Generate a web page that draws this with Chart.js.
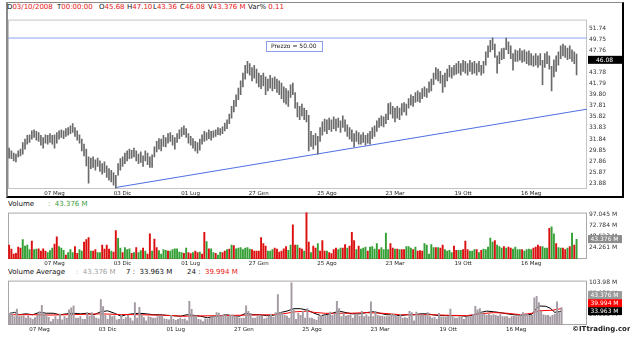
<!DOCTYPE html>
<html>
<head>
<meta charset="utf-8">
<title>Weekly chart</title>
<script src="https://cdn.jsdelivr.net/npm/chart.js@4.4.1/dist/chart.umd.min.js"></script>
<style>
  html, body { margin: 0; padding: 0; background: #fff; }
  body { position: relative; width: 630px; height: 340px; overflow: hidden;
         font-family: "DejaVu Sans", sans-serif; font-size: 7px; color: #111; }
  canvas, .txt, #frame { position: absolute; }
  #frame { left: 6px; top: 2px; width: 614px; height: 193px;
           border-left: 2px solid #8a8a8a; border-top: 1px solid #8a8a8a;
           border-right: 2px solid #000; border-bottom: 2px solid #000; }
  .txt { white-space: pre; line-height: 8px; }
  .red { color: #e81414; }
  .green { color: #3c9c3c; }
  .grey { color: #a0a0a0; }
  #copy { left: 572px; top: 325px; font-weight: bold; color: #222; }
</style>
</head>
<body>
<div id="frame"></div>
<div id="header"></div>
<canvas id="priceChart" width="614" height="183" style="left:8px;top:14px"></canvas>
<div class="txt" style="left:8px;top:200px">Volume</div>
<div class="txt green" id="volTitle" style="left:48px;top:200px"></div>
<canvas id="volChart" width="614" height="60" style="left:8px;top:207px"></canvas>
<div class="txt" style="left:8px;top:268px">Volume Average</div>
<div class="txt grey" id="avgTitle" style="left:76px;top:268px"></div>
<div class="txt" id="ma7Title" style="left:126px;top:268px"></div>
<div class="txt" id="ma24Title" style="left:187px;top:268px"></div>
<canvas id="avgChart" width="614" height="58" style="left:8px;top:275px"></canvas>
<div class="txt" id="copy">©ITtrading.com</div>

<script>
// weekly bars, oldest first; the last one is the week ending 03/10/2008
const highs = [
  30.2, 29.7, 29.3, 29.1, 29.7, 30.0, 31.2, 31.8, 32.5, 32.6,
  33.3, 33.5, 33.2, 33.0, 32.5, 32.1, 32.6, 32.5, 32.8, 32.5,
  32.6, 33.0, 33.3, 33.5, 33.3, 33.7, 33.9, 34.2, 34.6, 33.9,
  33.3, 32.6, 31.8, 30.9, 30.0, 28.6, 28.4, 28.6, 28.1, 28.4,
  27.9, 27.4, 27.7, 27.0, 26.5, 26.2, 25.8, 25.3, 27.4, 28.3,
  28.6, 29.3, 29.7, 30.0, 29.8, 30.2, 29.7, 29.1, 29.5, 28.8,
  29.7, 29.3, 28.6, 29.0, 30.4, 31.4, 31.9, 31.8, 32.5, 32.1,
  32.8, 33.0, 32.5, 32.1, 32.8, 33.5, 33.9, 34.2, 33.7, 32.8,
  32.3, 31.9, 31.4, 31.2, 31.8, 32.6, 33.2, 33.0, 33.5, 33.2,
  33.3, 33.5, 33.9, 33.7, 34.0, 34.7, 35.3, 36.3, 37.7, 38.8,
  39.8, 41.0, 42.3, 43.7, 45.1, 45.8, 45.4, 44.7, 45.1, 44.4,
  43.7, 43.3, 43.7, 43.0, 42.6, 43.3, 42.8, 43.0, 42.6, 42.3,
  41.9, 41.2, 40.9, 40.5, 41.6, 41.9, 40.2, 38.4, 37.7, 38.1,
  37.4, 37.0, 36.1, 33.2, 32.5, 32.8, 32.3, 33.9, 34.9, 35.4,
  35.3, 35.6, 35.3, 35.8, 35.4, 35.6, 35.1, 36.0, 35.3, 34.4,
  33.9, 33.5, 32.8, 33.3, 33.0, 32.6, 33.0, 32.5, 32.8, 33.2,
  33.9, 34.2, 35.1, 35.6, 36.0, 35.8, 36.3, 38.2, 38.4, 37.7,
  37.4, 37.7, 37.4, 38.2, 38.4, 38.1, 39.1, 39.8, 39.5, 40.2,
  40.5, 40.2, 40.9, 41.2, 40.9, 42.1, 42.6, 43.7, 44.7, 44.4,
  44.0, 43.3, 43.7, 44.4, 45.1, 44.7, 45.1, 45.4, 45.8, 45.4,
  46.0, 45.8, 45.4, 46.0, 45.6, 45.8, 45.4, 45.8, 45.1, 45.8,
  47.5, 48.6, 49.6, 50.05, 48.9, 46.8, 47.5, 48.1, 48.2, 50.0,
  49.3, 48.6, 47.2, 47.9, 47.7, 48.1, 47.7, 47.9, 47.5, 47.7,
  47.2, 46.8, 47.2, 46.8, 47.2, 46.0, 47.2, 47.5, 46.8, 44.9,
  46.1, 46.8, 47.5, 48.6, 48.9, 48.6, 48.2, 48.6, 47.9, 47.5, 47.10
];
const lows = [
  28.4, 28.3, 27.9, 27.7, 28.6, 28.8, 29.1, 30.0, 30.9, 31.2,
  31.8, 32.1, 31.6, 31.4, 30.7, 30.2, 31.1, 30.9, 31.2, 30.9,
  30.2, 31.1, 31.8, 32.1, 31.9, 32.3, 32.5, 32.8, 33.0, 32.3,
  31.6, 31.1, 29.7, 28.8, 27.0, 23.9, 26.5, 26.7, 26.2, 26.9,
  26.0, 25.5, 25.8, 24.9, 24.4, 24.1, 23.5, 23.0, 25.3, 26.2,
  26.9, 27.4, 27.9, 28.3, 28.4, 28.6, 27.9, 27.4, 27.6, 26.9,
  27.9, 27.2, 26.7, 26.7, 28.6, 29.5, 30.0, 29.7, 30.5, 30.4,
  31.1, 31.4, 30.7, 30.0, 31.2, 31.9, 32.3, 32.6, 32.1, 31.1,
  30.7, 30.2, 29.7, 29.3, 29.8, 30.9, 31.4, 31.6, 31.9, 31.6,
  32.1, 32.3, 32.6, 32.5, 32.8, 33.3, 33.7, 34.6, 35.6, 36.7,
  37.7, 38.9, 39.8, 41.2, 42.6, 43.7, 43.3, 42.3, 42.8, 41.9,
  41.2, 40.9, 41.4, 39.8, 40.5, 41.0, 40.5, 40.9, 40.2, 39.8,
  39.1, 38.4, 38.1, 37.7, 39.3, 39.8, 37.4, 35.8, 35.3, 36.0,
  35.3, 34.9, 29.7, 30.5, 30.0, 30.7, 29.1, 31.4, 32.5, 33.2,
  32.8, 33.5, 33.2, 33.7, 33.3, 33.9, 33.0, 33.9, 33.2, 32.3,
  31.8, 31.4, 30.4, 31.4, 30.9, 30.9, 31.2, 30.7, 31.1, 30.9,
  31.9, 32.3, 33.2, 33.9, 34.2, 34.0, 34.6, 35.3, 36.3, 35.6,
  34.9, 35.6, 35.3, 36.1, 36.7, 36.1, 37.4, 37.9, 37.7, 38.4,
  38.6, 38.4, 39.1, 39.5, 39.3, 40.2, 40.5, 41.6, 42.6, 42.3,
  41.9, 40.2, 41.2, 42.3, 43.0, 42.8, 43.3, 43.5, 43.7, 43.3,
  44.0, 43.7, 43.3, 44.0, 43.5, 43.7, 43.3, 43.9, 43.3, 43.7,
  45.1, 46.5, 47.5, 47.9, 46.5, 43.7, 45.4, 46.1, 46.3, 47.9,
  47.2, 46.3, 44.2, 45.8, 45.8, 46.0, 45.6, 45.8, 45.4, 45.1,
  45.1, 44.9, 45.1, 44.7, 45.1, 41.6, 44.7, 45.4, 44.4, 40.5,
  43.0, 44.0, 45.1, 46.3, 46.8, 46.5, 46.1, 46.3, 45.8, 45.4, 43.36
];
// millions of shares per week
const volumes = [
  31.0, 22.4, 11.2, 13.2, 26.4, 24.4, 42.9, 29.0, 31.0, 21.1,
  39.6, 21.1, 22.4, 23.1, 17.8, 23.1, 17.8, 14.5, 19.1, 24.4,
  33.0, 48.8, 27.7, 24.4, 19.8, 9.2, 14.5, 21.1, 14.5, 27.7,
  13.2, 21.1, 17.8, 37.6, 42.9, 47.5, 17.8, 17.8, 21.1, 14.5,
  14.5, 31.0, 22.4, 31.0, 22.4, 17.8, 15.8, 62.7, 45.5, 24.4,
  14.5, 25.7, 21.1, 23.1, 13.2, 14.5, 25.7, 14.5, 19.1, 24.4,
  17.8, 11.2, 55.4, 17.8, 44.2, 25.7, 19.1, 11.2, 21.1, 19.8,
  17.8, 17.8, 21.1, 23.1, 23.1, 15.8, 14.5, 13.2, 24.4, 14.5,
  12.5, 14.5, 17.8, 14.5, 15.8, 11.2, 58.7, 38.9, 23.1, 23.1,
  14.5, 13.2, 9.2, 15.8, 14.5, 17.8, 21.1, 22.4, 31.0, 29.7,
  23.1, 24.4, 25.7, 21.1, 24.4, 25.7, 22.4, 21.1, 17.8,
  17.8, 17.8, 47.5, 34.3, 29.0, 17.8, 17.8, 21.1, 24.4, 22.4,
  15.8, 17.8, 23.1, 27.7, 19.8, 31.0, 75.3, 31.0, 31.0, 24.4, 22.4, 17.8,
  103.98, 37.6, 14.5, 29.0, 24.4, 34.3, 17.8, 40.9, 17.8, 17.8,
  14.5, 12.5, 21.1, 24.4, 21.1, 24.4, 24.4, 32.3, 24.4, 29.0,
  58.7, 40.9, 21.1, 29.0, 22.4, 24.4, 26.4, 17.8, 26.4, 27.7,
  22.4, 34.3, 21.1, 25.7, 21.1, 57.4, 21.1, 34.3, 24.4, 22.4,
  22.4, 21.1, 21.1, 21.1, 27.7, 27.7, 24.4, 21.1, 26.4, 17.8,
  19.1, 17.8, 34.3, 31.0, 11.2, 32.3, 25.7, 25.7, 25.7, 24.4,
  31.0, 21.1, 17.8, 19.8, 14.5, 29.0, 19.8, 19.8, 19.8, 21.1,
  39.6, 21.1, 17.8, 17.8, 21.1, 21.1, 14.5, 19.8, 22.4, 21.1,
  26.4, 46.2, 37.6, 40.9, 31.0, 27.7, 24.4, 27.7, 24.4, 26.4,
  24.4, 22.4, 26.4, 21.1, 21.1, 21.1, 17.8, 21.1, 22.4, 21.1,
  24.4, 26.4, 31.0, 27.7, 27.7, 24.4, 24.4, 67.3, 70.6, 55.4,
  34.3, 25.7, 24.4, 24.4, 21.1, 24.4, 27.7, 57.4, 31.0, 43.376
];
// u = week closed up, d = week closed down
const volDir = [
  'dddddduuuu', 'duudddduuu', 'dduuuduuud', 'duuddduddu', 'uddddudduu',
  'duuududuud', 'uddudduuuu', 'duuuuuudud', 'dudduddudu', 'uduuddudud',
  'uuuuuuudd', 'ddddduuudd', 'dddduudduddu',
  'dduddudddu', 'dddduuddud', 'dduduuuduu', 'uuduuuuddu', 'dudduuudud',
  'dduuuuudud', 'duuuudduud', 'dduuududuu', 'uuuduuudud', 'duuuuduuuu',
  'dddduuuduu', 'duuddududu'
].join('');

const lastOpen = 45.68;
const lastClose = 46.08;
const lastVarPct = 0.11;

// 7 and 24 week volume averages
const ma7Bars = [7, 9, 11, 14, 17, 20, 23, 26, 29, 32, 35, 38, 41, 44, 47, 50, 53, 56, 58, 61,
  64, 67, 70, 73, 76, 79, 82, 85, 88, 91, 94, 97, 100, 102, 105, 108, 111, 114, 117, 120,
  123, 126, 129, 132, 135, 138, 141, 144, 146, 149, 152, 155, 158, 161, 164, 167, 170, 173, 176, 179,
  182, 185, 188, 191, 193, 196, 199, 202, 205, 208, 211, 214, 217, 220, 223, 226, 229, 232, 235, 237,
  238, 239, 240, 243, 245, 247, 249, 250];
const ma7 = [28.7, 31.0, 25.1, 27.3, 25.1, 31.0, 28.7, 28.7, 25.1, 27.3, 28.7, 27.3, 28.7, 25.1, 32.4, 34.6, 28.7, 21.4, 25.1, 27.3,
  28.7, 27.3, 25.1, 25.1, 23.6, 22.8, 21.4, 25.1, 23.6, 21.4, 17.7, 21.4, 22.8, 25.1, 22.8, 21.4, 28.7, 25.1, 25.1, 22.8,
  23.6, 30.2, 33.9, 39.8, 39.8, 36.1, 28.7, 22.8, 25.1, 28.7, 33.9, 30.2, 27.3, 27.3, 30.2, 32.4, 28.7, 25.1, 25.1, 22.8,
  25.1, 25.1, 27.3, 27.3, 25.1, 22.8, 22.8, 22.8, 22.8, 21.4, 23.6, 30.2, 33.9, 32.4, 30.2, 27.3, 25.1, 23.6, 25.1, 26.5,
  34.0, 41.0, 46.5, 45.7, 41.0, 31.0, 32.4, 33.963];
const ma24Bars = [7, 17, 25, 36, 47, 54, 65, 76, 83, 98, 113, 123, 129, 132, 138, 141, 146, 157, 164, 171,
  179, 186, 193, 201, 208, 214, 220, 226, 232, 237, 240, 246, 250];
const ma24 = [25.1, 25.1, 24.3, 25.5, 27.3, 25.8, 25.0, 23.6, 21.4, 22.8, 24.3, 25.1, 28.7, 32.0, 33.8, 30.8, 28.5, 28.7, 30.2, 28.7,
  25.1, 25.1, 25.1, 23.6, 22.8, 27.3, 30.2, 28.7, 25.1, 28.7, 34.6, 36.1, 39.994];

// support line drawn under the lows, and the horizontal price level
const trendBars = [47, 254.6];
const trendPrices = [23.1, 37.2];
const priceLevel = 50.00;

const weekTicks = [20, 50, 80, 110, 140, 170, 200, 230];
const weekTickText = ['07 Mag', '03 Dic', '01 Lug', '27 Gen', '25 Ago', '23 Mar', '19 Ott', '16 Mag'];
const priceTicks = [23.88, 25.87, 27.86, 29.85, 31.84, 33.83, 35.82, 37.81, 39.80, 41.79, 43.78, 45.77, 47.76, 49.75, 51.74];
const volTicks = [24.261, 48.523, 72.784, 97.045];
const volAvgTicks = [25.995, 51.990, 77.985, 103.98];

const FONT = '"DejaVu Sans", sans-serif';
Chart.defaults.font.family = FONT;
Chart.defaults.animation = false;

const lastVol = volumes[volumes.length - 1];
const fmtM = v => v.toPrecision(5) + ' M';

// header line and panel titles
const header = document.getElementById('header');
[
  ['D', '03/10/2008', 7], ['T', '00:00:00', 57], ['O', lastOpen.toFixed(2), 99],
  ['H', highs[highs.length - 1].toFixed(2), 127], ['L', lows[lows.length - 1].toFixed(2), 153],
  ['C', lastClose.toFixed(2), 180], ['V', fmtM(lastVol), 208], ['Var% ', lastVarPct.toFixed(2), 248]
].forEach(([key, val, left]) => {
  const d = document.createElement('div');
  d.className = 'txt';
  d.style.left = left + 'px';
  d.style.top = '3px';
  d.innerHTML = key + '<span class="red">' + val + '</span>';
  header.appendChild(d);
});
document.getElementById('volTitle').textContent = ':  ' + fmtM(lastVol);
document.getElementById('avgTitle').textContent = ':  ' + fmtM(lastVol);
document.getElementById('ma7Title').textContent = '7 :  ' + fmtM(ma7[ma7.length - 1]);
document.getElementById('ma24Title').innerHTML = '24 :  <span class="red">' + fmtM(ma24[ma24.length - 1]) + '</span>';

function weekAxis(min, max) {
  return {
    type: 'linear', min: min, max: max, offset: false,
    grid: { display: false, drawTicks: false },
    border: { display: false },
    afterBuildTicks: s => { s.ticks = weekTicks.map(v => ({ value: v })); },
    afterFit: s => { s.height = 8; },
    ticks: {
      autoSkip: false, maxRotation: 0, padding: 1, color: '#222', font: { size: 5.5 },
      callback: v => weekTickText[weekTicks.indexOf(v)]
    }
  };
}

function valueAxis(min, max, tickValues, fmt) {
  return {
    position: 'right', min: min, max: max,
    grid: { display: false, drawTicks: false },
    border: { display: false },
    afterBuildTicks: s => { s.ticks = tickValues.map(v => ({ value: v })); },
    afterFit: s => { s.width = 35; },
    ticks: { padding: 2, color: '#333', font: { size: 6 }, callback: fmt }
  };
}

const plotFrame = color => ({
  id: 'plotFrame',
  beforeDatasetsDraw(chart) {
    const { ctx, chartArea: a } = chart;
    ctx.save();
    ctx.strokeStyle = color;
    ctx.lineWidth = 1;
    ctx.strokeRect(a.left + 0.5, a.top + 0.5, a.width - 1, a.height - 1);
    ctx.restore();
  }
});

// current value boxes on the right axis, pushed up when they would overlap
const valueTags = tags => ({
  id: 'valueTags',
  afterDraw(chart) {
    const { ctx, chartArea: a, scales: { y } } = chart;
    const h = 8;
    let limit = Infinity;
    ctx.save();
    ctx.font = '6px ' + FONT;
    ctx.textAlign = 'center';
    ctx.textBaseline = 'middle';
    tags.slice().sort((p, q) => p.value - q.value).forEach(t => {
      let cy = y.getPixelForValue(t.value);
      if (cy + h / 2 > limit) cy = limit - h / 2;
      limit = cy - h / 2;
      ctx.fillStyle = t.bg;
      ctx.fillRect(a.right + 1, cy - h / 2, chart.width - a.right - 1, h);
      ctx.fillStyle = '#fff';
      ctx.fillText(t.text, (a.right + chart.width) / 2, cy + 0.5);
    });
    ctx.restore();
  }
});

const levelTagBar = 113;
const levelLabel = {
  id: 'levelLabel',
  afterDatasetsDraw(chart) {
    const { ctx, scales: { x, y } } = chart;
    const text = 'Prezzo = ' + priceLevel.toFixed(2);
    const left = Math.round(x.getPixelForValue(levelTagBar));
    const top = Math.round(y.getPixelForValue(priceLevel)) + 3;
    ctx.save();
    ctx.font = '6px ' + FONT;
    const w = Math.round(ctx.measureText(text).width) + 10;
    ctx.fillStyle = '#fff';
    ctx.fillRect(left, top, w, 10);
    ctx.strokeStyle = '#8c9ef0';
    ctx.strokeRect(left + 0.5, top + 0.5, w, 10);
    ctx.fillStyle = '#222';
    ctx.textBaseline = 'middle';
    ctx.fillText(text, left + 5, top + 5.5);
    ctx.restore();
  }
};

const xMin = -0.5, xMax = 254.6;
const avgShift = 6.6;

new Chart(document.getElementById('priceChart'), {
  type: 'bar',
  data: {
    datasets: [
      {
        data: highs.map((h, i) => ({ x: i, y: [lows[i], h] })),
        backgroundColor: '#6a6a6a', borderWidth: 0, barThickness: 1
      },
      {
        type: 'line',
        data: trendBars.map((b, i) => ({ x: b, y: trendPrices[i] })),
        borderColor: '#4f6fe6', borderWidth: 1, pointRadius: 0
      },
      {
        type: 'line',
        data: [{ x: xMin, y: priceLevel }, { x: xMax, y: priceLevel }],
        borderColor: '#8ea3f2', borderWidth: 1, pointRadius: 0
      }
    ]
  },
  options: {
    responsive: false,
    devicePixelRatio: 1,
    layout: { padding: { top: 1 } },
    plugins: { legend: { display: false }, tooltip: { enabled: false } },
    scales: {
      x: weekAxis(xMin, xMax),
      y: valueAxis(22.83, 53.32, priceTicks, v => v.toFixed(2))
    }
  },
  plugins: [plotFrame('#c4c4c4'), levelLabel,
    valueTags([{ value: lastClose, text: lastClose.toFixed(2), bg: '#000' }])]
});

new Chart(document.getElementById('volChart'), {
  type: 'bar',
  data: {
    datasets: [{
      data: volumes.map((v, i) => ({ x: i, y: v })),
      backgroundColor: volumes.map((v, i) => volDir[i] === 'u' ? '#35a035' : '#dc1010'),
      borderWidth: 0, barPercentage: 0.85, categoryPercentage: 1
    }]
  },
  options: {
    responsive: false,
    devicePixelRatio: 1,
    layout: { padding: { top: 1 } },
    plugins: { legend: { display: false }, tooltip: { enabled: false } },
    scales: {
      x: weekAxis(xMin, xMax),
      y: valueAxis(0, 101.0, volTicks, fmtM)
    }
  },
  plugins: [plotFrame('#a8a8a8'),
    valueTags([{ value: lastVol, text: fmtM(lastVol), bg: '#8c8c8c' }])]
});

new Chart(document.getElementById('avgChart'), {
  type: 'bar',
  data: {
    datasets: [
      {
        data: volumes.map((v, i) => ({ x: i, y: v })),
        backgroundColor: '#a39aa2', borderWidth: 0, barPercentage: 0.85, categoryPercentage: 1
      },
      {
        type: 'line',
        data: ma24Bars.map((b, i) => ({ x: b, y: ma24[i] })),
        borderColor: '#ff0000', borderWidth: 1, pointRadius: 0
      },
      {
        type: 'line',
        data: ma7Bars.map((b, i) => ({ x: b, y: ma7[i] })),
        borderColor: '#000', borderWidth: 1, pointRadius: 0
      }
    ]
  },
  options: {
    responsive: false,
    devicePixelRatio: 1,
    layout: { padding: { top: 1 } },
    plugins: { legend: { display: false }, tooltip: { enabled: false } },
    scales: {
      x: weekAxis(xMin + avgShift, xMax + avgShift),
      y: valueAxis(0, 108.4, volAvgTicks, fmtM)
    }
  },
  plugins: [plotFrame('#a8a8a8'),
    valueTags([
      { value: lastVol, text: fmtM(lastVol), bg: '#9a9a9a' },
      { value: ma24[ma24.length - 1], text: fmtM(ma24[ma24.length - 1]), bg: '#ff0000' },
      { value: ma7[ma7.length - 1], text: fmtM(ma7[ma7.length - 1]), bg: '#000' }
    ])]
});
</script>
</body>
</html>
